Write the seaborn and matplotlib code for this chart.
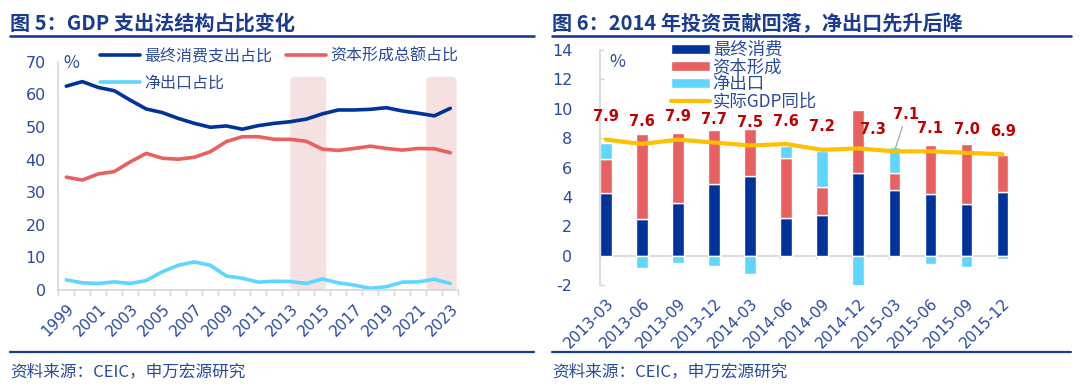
import numpy as np
import pandas as pd
import seaborn as sns
import matplotlib.pyplot as plt
from matplotlib.patches import FancyBboxPatch
from matplotlib.lines import Line2D

# ---- data: left panel (GDP expenditure shares, %) ----
years = list(range(1999, 2024))
consumption_share = [62.5, 63.9, 62.1, 61.1, 58.2, 55.5, 54.4, 52.6, 51.1, 49.9, 50.3, 49.3, 50.4,
                     51.1, 51.6, 52.4, 54.0, 55.2, 55.2, 55.4, 55.9, 54.9, 54.2, 53.4, 55.7]
capital_share = [34.6, 33.7, 35.6, 36.3, 39.3, 41.9, 40.4, 40.1, 40.7, 42.4, 45.5, 47.0, 47.0,
                 46.2, 46.2, 45.6, 43.2, 42.8, 43.4, 44.1, 43.4, 42.9, 43.4, 43.3, 42.1]
netexport_share = [3.1, 2.2, 2.0, 2.5, 2.0, 2.9, 5.6, 7.6, 8.6, 7.6, 4.3, 3.6, 2.4,
                   2.7, 2.6, 2.0, 3.4, 2.2, 1.5, 0.5, 1.0, 2.4, 2.5, 3.3, 2.0]
shaded_periods = [(2013.0, 2015.25), (2021.5, 2023.4)]

# ---- data: right panel (contributions to GDP growth, ppt) ----
quarters = ['2013-03', '2013-06', '2013-09', '2013-12', '2014-03', '2014-06',
            '2014-09', '2014-12', '2015-03', '2015-06', '2015-09', '2015-12']
consumption_contrib = [4.25, 2.5, 3.6, 4.85, 5.45, 2.55, 2.8, 5.65, 4.45, 4.2, 3.5, 4.3]
capital_contrib = [2.35, 5.8, 4.75, 3.7, 3.15, 4.1, 1.9, 4.25, 1.2, 3.3, 4.1, 2.55]
netexport_contrib = [1.1, -0.85, -0.5, -0.7, -1.25, 0.8, 2.4, -2.2, 1.75, -0.6, -0.8, -0.2]
gdp_yoy = [7.9, 7.6, 7.9, 7.7, 7.5, 7.6, 7.2, 7.3, 7.1, 7.1, 7.0, 6.9]

NAVY = '#003399'
RED = '#e8605f'
CYAN = '#5fd6ff'
YELLOW = '#ffc000'
TXT = '#2a4a9e'
TITLE = '#1a3b8f'
GREY = '#d6d6d6'
DARKRED = '#c00000'

sns.set_theme(style='white')
plt.rcParams['font.family'] = ['Noto Sans CJK SC', 'DejaVu Sans']
plt.rcParams['axes.unicode_minus'] = False

W, H = 1080, 391
fig = plt.figure(figsize=(W / 100, H / 100), dpi=100)


def fx(px):
    return px / W


def fy(py):
    return 1 - py / H


# ================= left panel =================
ax1 = fig.add_axes([fx(58.3), fy(290), fx(400), 228.3 / H])
ax1.set_xlim(1998.5, 2023.5)
ax1.set_ylim(0, 70)

for x0, x1 in shaded_periods:
    ax1.add_patch(FancyBboxPatch((x0, 0), x1 - x0, 65.4,
                                 boxstyle='round,pad=0,rounding_size=0.3',
                                 mutation_aspect=4.9, fc='#f5e1e1', ec='none', zorder=0))

left = pd.DataFrame({'year': years, 'cons': consumption_share,
                     'cap': capital_share, 'net': netexport_share})
sns.lineplot(data=left, x='year', y='cons', color=NAVY, lw=2.6, ax=ax1, label='最终消费支出占比')
sns.lineplot(data=left, x='year', y='cap', color=RED, lw=2.6, ax=ax1, label='资本形成总额占比')
sns.lineplot(data=left, x='year', y='net', color=CYAN, lw=2.6, ax=ax1, label='净出口占比')
h = ax1.get_legend_handles_labels()
ax1.legend([h[0][0], h[0][2], h[0][1]], [h[1][0], h[1][2], h[1][1]], ncol=2,
           loc='upper left', bbox_to_anchor=(fx(100), fy(48)), bbox_transform=fig.transFigure,
           frameon=False, fontsize=11.5, handlelength=2.5, handletextpad=0.25,
           columnspacing=0.9, labelspacing=0.62, borderpad=0, borderaxespad=0,
           labelcolor=TXT)

ax1.set_xlabel('')
ax1.set_ylabel('')
ax1.set_yticks(range(0, 80, 10))
ax1.set_xticks(years[::2])
ax1.set_xticklabels([str(y) for y in years[::2]], rotation=45, ha='right',
                    rotation_mode='anchor')
ax1.set_xticks(np.arange(1998.5, 2024, 1), minor=True)
ax1.tick_params(axis='x', which='major', length=0, pad=8, labelsize=11, labelcolor=TXT)
ax1.tick_params(axis='x', which='minor', bottom=True, length=4, width=1, color=GREY, direction='out')
ax1.tick_params(axis='y', length=0, pad=9, labelsize=11.5, labelcolor=TXT)
for lbl in ax1.get_xticklabels() + ax1.get_yticklabels():
    lbl.set_fontfamily('DejaVu Sans')
for s in ['top', 'right']:
    ax1.spines[s].set_visible(False)
for s in ['left', 'bottom']:
    ax1.spines[s].set_color(GREY)
    ax1.spines[s].set_linewidth(1.2)
fig.text(fx(63), fy(63), '%', fontsize=12.5, color=TXT, va='center')

# ================= right panel =================
ax2 = fig.add_axes([fx(600), fy(285), fx(409), 235 / H])
x = np.arange(len(quarters))
bw = 0.325
cons = np.array(consumption_contrib)
cap = np.array(capital_contrib)
net = np.array(netexport_contrib)
b1 = ax2.bar(x, cons, width=bw, align='edge', color=NAVY, label='最终消费', zorder=2)
b2 = ax2.bar(x, cap, width=bw, align='edge', bottom=cons, color=RED, label='资本形成', zorder=2)
b3 = ax2.bar(x, net, width=bw, align='edge', bottom=np.where(net > 0, cons + cap, 0),
             color=CYAN, label='净出口', zorder=2)
right = pd.DataFrame({'pos': x + bw / 2, 'gdp': gdp_yoy})
sns.lineplot(data=right, x='pos', y='gdp', color=YELLOW, lw=3, ax=ax2,
             label='实际GDP同比', zorder=4)
ln = ax2.get_legend_handles_labels()[0][0]

ax2.axhline(0, color=GREY, lw=1.2, zorder=1)
ax2.vlines(x, -0.25, 0, color=GREY, lw=1, zorder=1)
ax2.set_xlim(0, 11.34)
ax2.set_ylim(-2, 14)
ax2.set_xlabel('')
ax2.set_ylabel('')
ax2.set_yticks(range(-2, 16, 2))
ax2.set_xticks(x + bw / 2)
ax2.set_xticklabels(quarters, rotation=45, ha='right', rotation_mode='anchor')
ax2.tick_params(axis='x', length=0, pad=8, labelsize=11, labelcolor=TXT)
ax2.tick_params(axis='y', left=True, length=3, width=1, color=GREY, direction='in',
                pad=20, labelsize=11.5, labelcolor=TXT)
for lbl in ax2.get_xticklabels() + ax2.get_yticklabels():
    lbl.set_fontfamily('DejaVu Sans')
for s in ['top', 'right', 'bottom']:
    ax2.spines[s].set_visible(False)
ax2.spines['left'].set_color(GREY)
ax2.spines['left'].set_linewidth(1.2)

# data labels on the GDP line (offsets in pixels)
label_offsets = [(0, 23)] * 7 + [(15, 19), (12, 37), (0, 23), (0, 23), (0, 23)]
for i, v in enumerate(gdp_yoy):
    arrow = None
    if label_offsets[i][1] > 30:
        arrow = dict(arrowstyle='-', color='#a6a6a6', lw=0.9, shrinkA=1, shrinkB=2)
    ax2.annotate(f'{v:.1f}', (x[i] + bw / 2, v), xytext=label_offsets[i],
                 textcoords='offset pixels', ha='center', va='center', color=DARKRED,
                 fontsize=10.5, fontweight='bold', fontfamily='DejaVu Sans',
                 arrowprops=arrow, zorder=5)

ax2.legend([b1, b2, b3, ln], ['最终消费', '资本形成', '净出口', '实际GDP同比'],
           loc='upper left', bbox_to_anchor=(fx(671), fy(41)), bbox_transform=fig.transFigure,
           frameon=False, fontsize=12.5, handlelength=2.25, handleheight=0.55,
           handletextpad=0.15, labelspacing=-0.05, borderpad=0, borderaxespad=0,
           labelcolor=TXT)
fig.text(fx(609), fy(62), '%', fontsize=12.5, color=TXT, va='center')

# ================= titles & footers =================
fig.text(fx(10), fy(23.5), '图 5：GDP 支出法结构占比变化', fontsize=14.5,
         fontweight='bold', color=TITLE, va='center')
fig.text(fx(552), fy(23.5), '图 6：2014 年投资贡献回落，净出口先升后降', fontsize=14.5,
         fontweight='bold', color=TITLE, va='center')
for xa, xb in [(10, 534), (552, 1071)]:
    fig.add_artist(Line2D([fx(xa), fx(xb)], [fy(36), fy(36)], color=TITLE, lw=1.9))
    fig.add_artist(Line2D([fx(xa), fx(xb)], [fy(352), fy(352)], color=TITLE, lw=1.6))
    fig.text(fx(xa), fy(372), '资料来源：CEIC，申万宏源研究', fontsize=12,
             color=TXT, va='center')

fig.savefig('out.png', dpi=100)
